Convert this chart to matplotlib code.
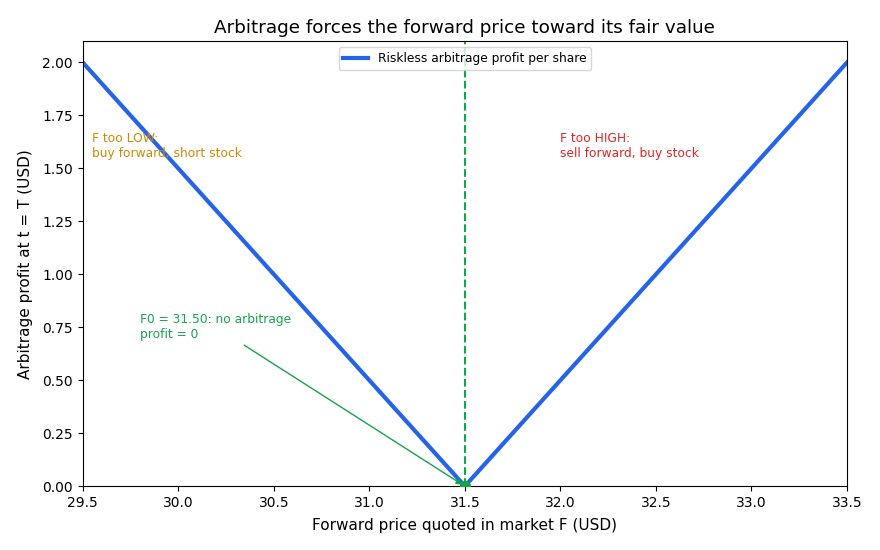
import numpy as np
import matplotlib.pyplot as plt

# fair forward price and the range of quoted prices
fair_price = 31.5
forward_prices = [29.5, 31.5, 33.5]
profits = [2.0, 0.0, 2.0]

blue = "#2563eb"
green = "#16a34a"
orange = "#ca8a04"
red = "#dc2626"

fig, ax = plt.subplots(figsize=(8.8, 5.5), dpi=100)
fig.subplots_adjust(left=0.094, right=0.9625, top=0.925, bottom=0.116)

ax.plot(forward_prices, profits, color=blue, lw=3, label="Riskless arbitrage profit per share")
ax.axvline(fair_price, color=green, ls="--", lw=1.5)
ax.scatter([fair_price], [0], color=green, s=50, zorder=5)

ax.annotate("F0 = 31.50: no arbitrage\nprofit = 0", xy=(fair_price, 0), xytext=(29.8, 0.7),
            color=green, fontsize=8.8,
            arrowprops=dict(arrowstyle="-|>", color=green, lw=1))
ax.text(29.55, 1.67, "F too LOW:\nbuy forward, short stock", color=orange, fontsize=8.8, va="top")
ax.text(32.0, 1.67, "F too HIGH:\nsell forward, buy stock", color=red, fontsize=8.8, va="top")

ax.set_xlim(29.5, 33.5)
ax.set_ylim(0, 2.1)
ax.set_xticks(np.arange(29.5, 33.51, 0.5))
ax.set_title("Arbitrage forces the forward price toward its fair value", fontsize=13.2)
ax.set_xlabel("Forward price quoted in market F (USD)", fontsize=11, labelpad=6)
ax.set_ylabel("Arbitrage profit at t = T (USD)", fontsize=11, labelpad=7)
ax.legend(loc="upper center", fontsize=8.8)

fig.savefig("out.png")
